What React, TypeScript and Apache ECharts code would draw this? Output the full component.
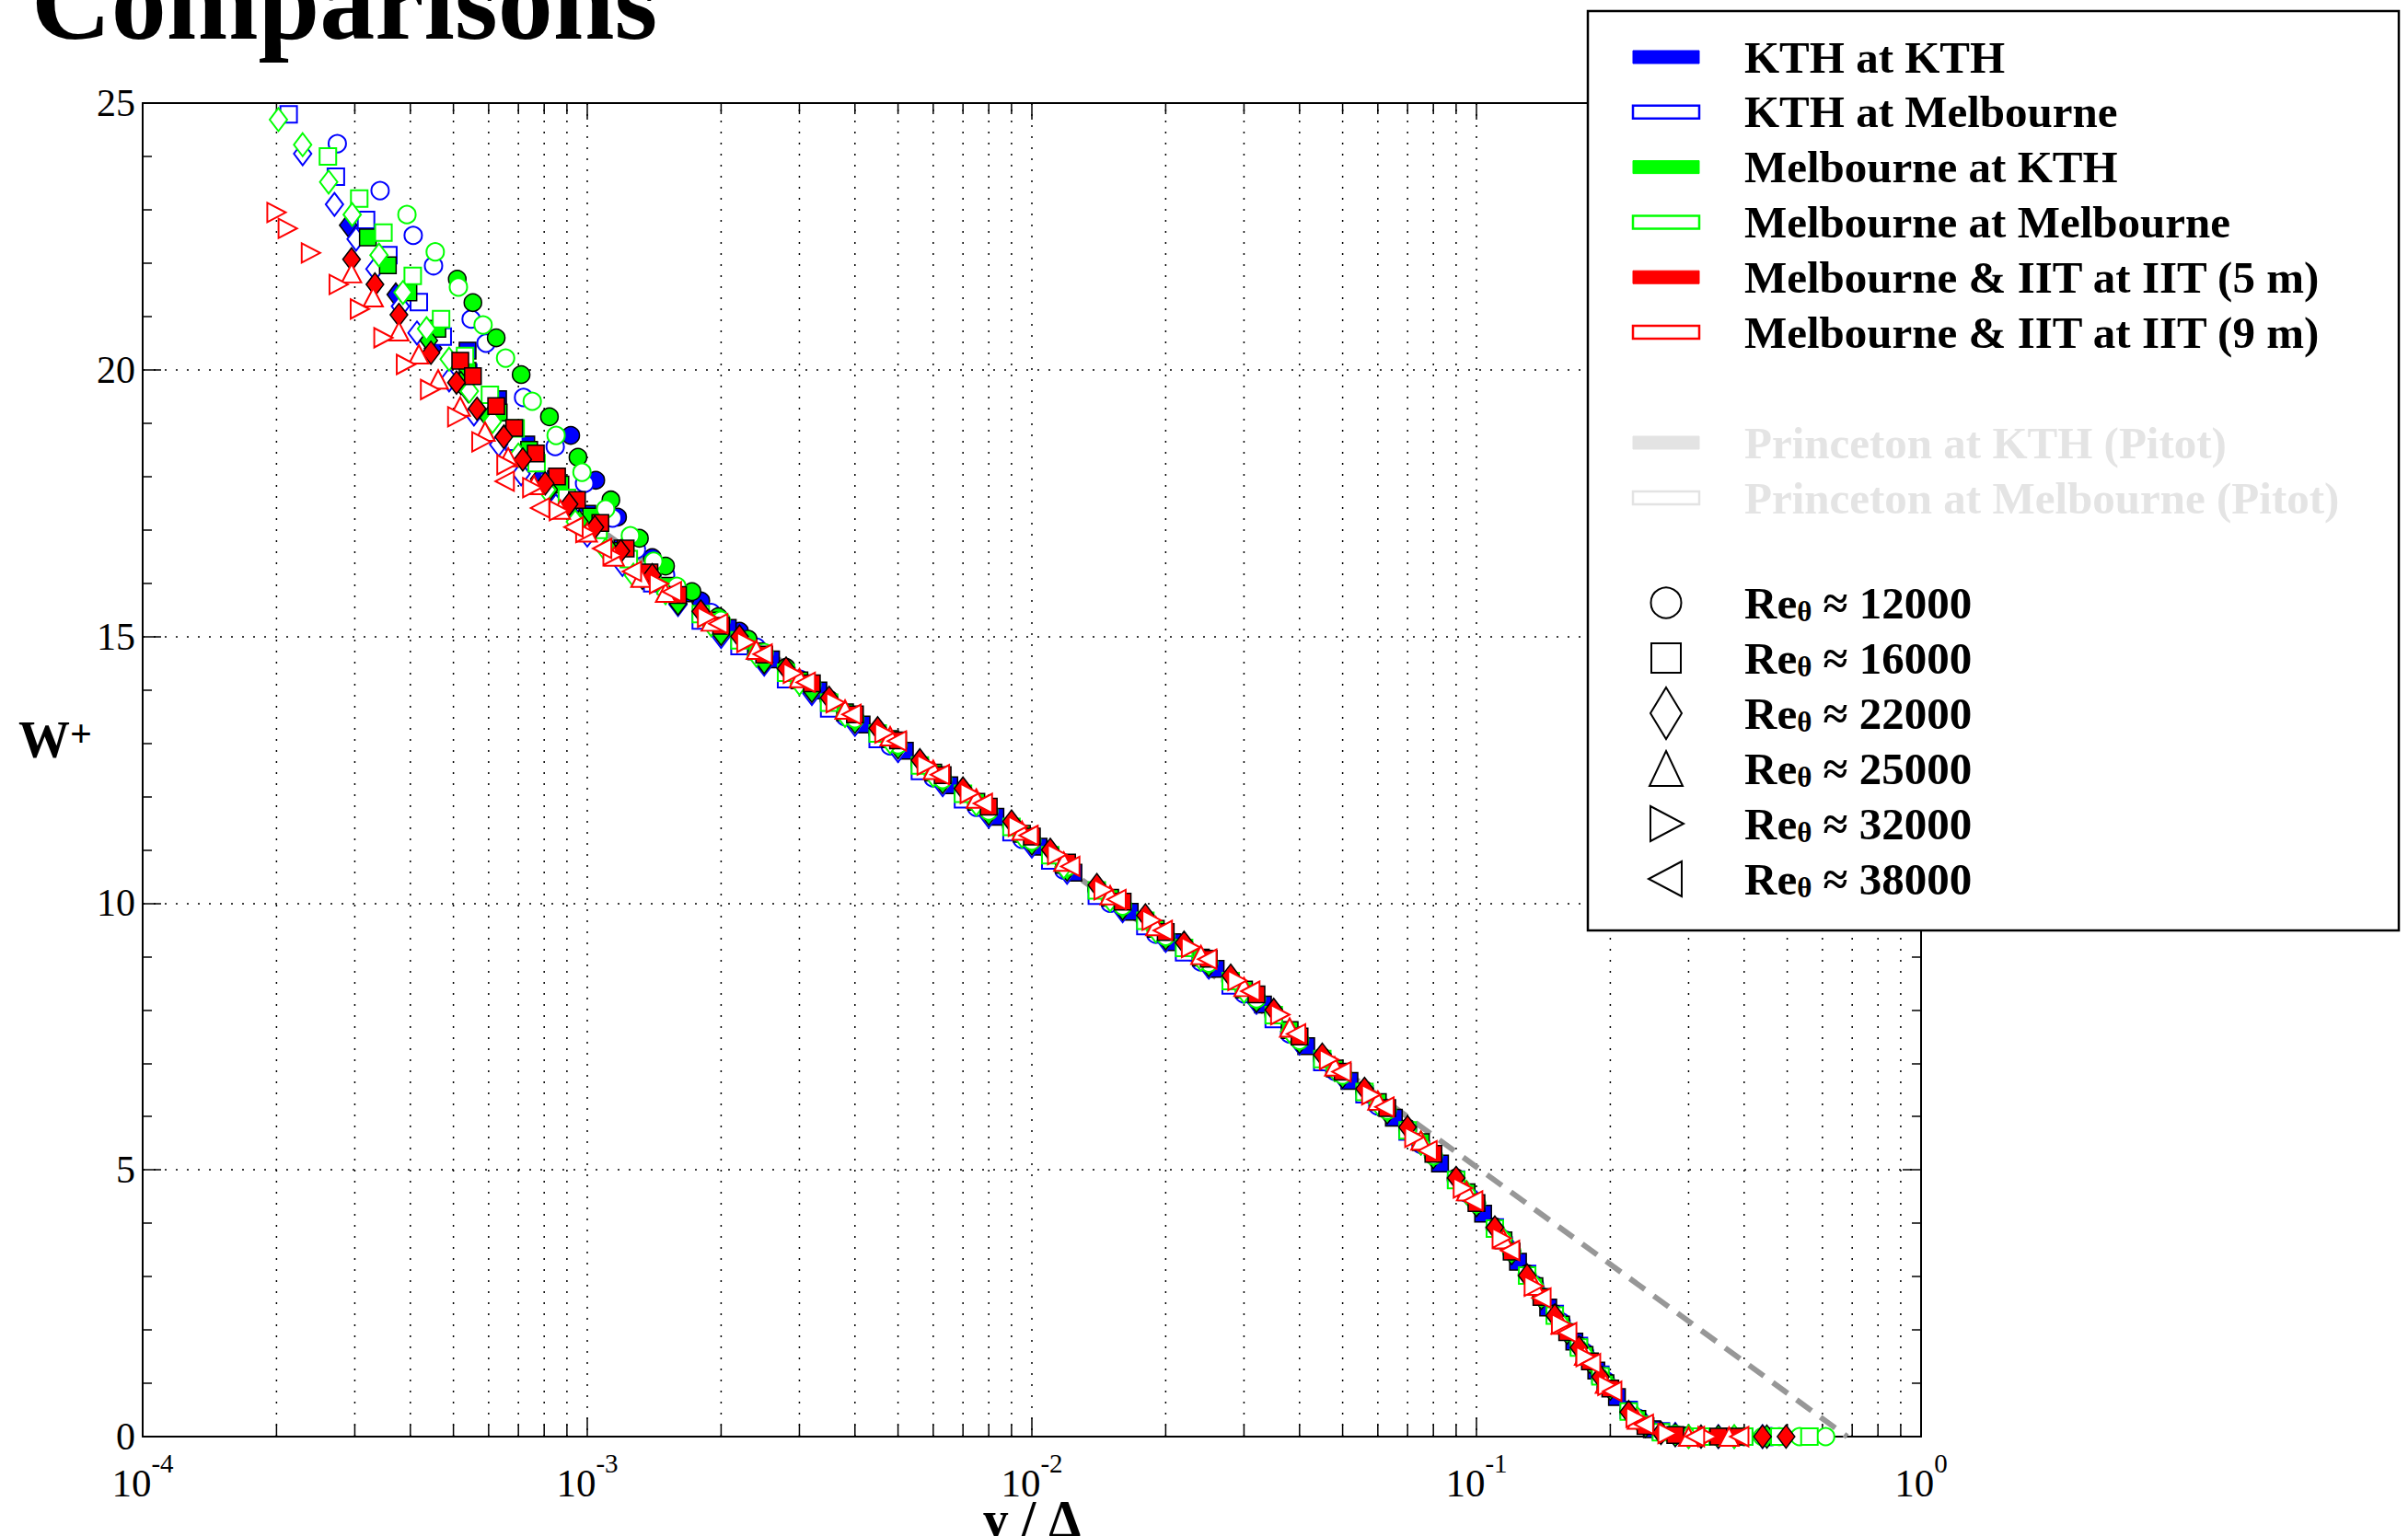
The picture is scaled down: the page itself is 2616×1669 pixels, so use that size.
import React, { useEffect, useRef } from 'react';
import * as echarts from 'echarts';

const SERIF = '"Liberation Serif", "Times New Roman", serif';

// ---------- tick labels ----------
const xTickExponents = ['-4', '-3', '-2', '-1', '0'];
const xMinorTicks = [
  2e-4, 3e-4, 4e-4, 5e-4, 6e-4, 7e-4, 8e-4, 9e-4,
  2e-3, 3e-3, 4e-3, 5e-3, 6e-3, 7e-3, 8e-3, 9e-3,
  0.02, 0.03, 0.04, 0.05, 0.06, 0.07, 0.08, 0.09,
  0.2, 0.3, 0.4, 0.5, 0.6, 0.7, 0.8, 0.9,
];

// ---------- legend texts ----------
const facilityLabels = [
  'KTH at KTH',
  'KTH at Melbourne',
  'Melbourne at KTH',
  'Melbourne at Melbourne',
  'Melbourne & IIT at IIT (5 m)',
  'Melbourne & IIT at IIT (9 m)',
];
const princetonLabels = ['Princeton at KTH (Pitot)', 'Princeton at Melbourne (Pitot)'];
const reLabels = ['12000', '16000', '22000', '25000', '32000', '38000'];

// ---------- dashed log-law line ----------
const logLaw = [[1.1e-3, 16.93], [0.682, 0]];

// ---------- data: [y/Δ, W+] ----------
const kthKth12k = [[9.18e-4,18.77],[1.045e-3,17.93],[1.17e-3,17.24],[1.4e-3,16.48],[1.8e-3,15.67],[2.2e-3,15.1],[2.8e-3,14.4],[3.5e-3,13.8],[4.5e-3,13.18],[5.6e-3,12.58],[7.0e-3,12.05],[9.0e-3,11.43],[0.011,10.9],[0.014,10.24],[0.018,9.67],[0.022,9.16],[0.028,8.54],[0.035,7.9],[0.045,7.08],[0.056,6.46],[0.07,5.74],[0.09,4.81],[0.11,3.9],[0.13,3.02],[0.15,2.27],[0.17,1.67],[0.19,1.13],[0.22,0.47],[0.26,0.08],[0.32,0],[0.4,0]];
const kthKth16k = [[5.38e-4,20.36],[6.3e-4,19.45],[7.29e-4,18.6],[8.5e-4,17.95],[1.0e-3,17.3],[1.2e-3,16.65],[1.66e-3,15.81],[2.07e-3,15.16],[2.59e-3,14.57],[3.31e-3,13.99],[4.14e-3,13.35],[5.18e-3,12.86],[6.52e-3,12.21],[8.28e-3,11.62],[0.01035,11.06],[0.0124,10.57],[0.0166,9.84],[0.0207,9.27],[0.0259,8.77],[0.0331,8.1],[0.0414,7.32],[0.0518,6.67],[0.0652,5.98],[0.0828,5.12],[0.1035,4.18],[0.124,3.28],[0.145,2.42],[0.166,1.78],[0.186,1.24],[0.207,0.74],[0.248,0.14],[0.29,0.02],[0.362,0],[0.466,0]];
const kthKth22k = [[2.9e-4,22.71],[3.71e-4,21.41],[4.5e-4,20.4],[5.4e-4,19.6],[6.5e-4,18.75],[7.8e-4,17.95],[9.4e-4,17.2],[1.13e-3,16.6],[1.5e-3,15.85],[1.9e-3,15.25],[2.4e-3,14.68],[3.0e-3,14.15],[3.8e-3,13.55],[4.8e-3,13.05],[6.0e-3,12.42],[7.5e-3,11.88],[9.5e-3,11.28],[0.0118,10.7],[0.015,10.08],[0.019,9.5],[0.024,8.96],[0.03,8.36],[0.038,7.6],[0.048,6.88],[0.06,6.25],[0.075,5.5],[0.095,4.57],[0.115,3.68],[0.135,2.82],[0.155,2.1],[0.175,1.53],[0.195,1.0],[0.23,0.33],[0.3,0],[0.38,0]];

const kthMel12k = [[2.74e-4,24.24],[3.42e-4,23.36],[4.06e-4,22.52],[4.51e-4,21.95],[5.48e-4,20.95],[5.92e-4,20.5],[7.19e-4,19.48],[8.47e-4,18.56],[9.86e-4,17.87],[1.14e-3,17.22],[1.29e-3,16.63],[1.5e-3,16.15],[1.9e-3,15.45],[2.4e-3,14.8],[3.0e-3,14.2],[3.8e-3,13.5],[4.8e-3,12.95],[6.0e-3,12.35],[7.5e-3,11.8],[9.5e-3,11.2],[0.0118,10.62],[0.015,10.0],[0.019,9.42],[0.024,8.9],[0.03,8.3],[0.038,7.55],[0.048,6.85],[0.06,6.2],[0.075,5.48],[0.095,4.57],[0.115,3.7],[0.135,2.85],[0.155,2.15],[0.175,1.58],[0.195,1.05],[0.23,0.35],[0.3,0],[0.38,0],[0.46,0]];
const kthMel16k = [[2.13e-4,24.79],[2.72e-4,23.62],[3.18e-4,22.81],[3.57e-4,22.15],[4.18e-4,21.27],[4.73e-4,20.62],[5.4e-4,19.95],[6.85e-4,18.65],[8.2e-4,17.9],[9.8e-4,17.2],[1.17e-3,16.55],[1.4e-3,16.0],[1.8e-3,15.3],[2.2e-3,14.82],[2.8e-3,14.2],[3.5e-3,13.65],[4.5e-3,13.08],[5.6e-3,12.48],[7.0e-3,11.95],[9.0e-3,11.33],[0.011,10.8],[0.014,10.14],[0.018,9.57],[0.022,9.08],[0.028,8.46],[0.035,7.83],[0.045,7.02],[0.056,6.42],[0.07,5.72],[0.09,4.82],[0.11,3.92],[0.13,3.05],[0.15,2.3],[0.17,1.7],[0.19,1.16],[0.22,0.5],[0.26,0.1],[0.32,0],[0.4,0]];
const kthMel22k = [[2.29e-4,24.05],[2.7e-4,23.1],[3.02e-4,22.45],[3.33e-4,21.89],[3.8e-4,21.19],[4.14e-4,20.69],[4.89e-4,19.81],[5.56e-4,19.17],[6.32e-4,18.6],[7.1e-4,18.05],[8.5e-4,17.45],[1.0e-3,16.9],[1.2e-3,16.35],[1.6e-3,15.6],[2.0e-3,15.0],[2.5e-3,14.48],[3.2e-3,13.93],[4.0e-3,13.35],[5.0e-3,12.86],[6.3e-3,12.22],[8.0e-3,11.63],[0.01,11.07],[0.012,10.58],[0.016,9.86],[0.02,9.3],[0.025,8.8],[0.032,8.14],[0.04,7.38],[0.05,6.74],[0.063,6.1],[0.08,5.27],[0.1,4.38],[0.12,3.48],[0.14,2.64],[0.16,1.98],[0.18,1.44],[0.2,0.93],[0.24,0.22],[0.28,0.04],[0.35,0],[0.44,0]];

const melKth12k = [[5.1e-4,21.7],[5.53e-4,21.26],[6.24e-4,20.6],[7.1e-4,19.91],[8.22e-4,19.12],[9.53e-4,18.36],[1.13e-3,17.56],[1.31e-3,16.84],[1.5e-3,16.32],[1.72e-3,15.84],[1.97e-3,15.37],[2.3e-3,14.95],[2.8e-3,14.42],[3.5e-3,13.82],[4.5e-3,13.22],[5.6e-3,12.62],[7.0e-3,12.08],[9.0e-3,11.46],[0.011,10.93],[0.014,10.27],[0.018,9.7],[0.022,9.2],[0.028,8.58],[0.035,7.95],[0.045,7.12],[0.056,6.5],[0.07,5.78],[0.09,4.85],[0.11,3.93],[0.13,3.05],[0.15,2.3],[0.17,1.7],[0.19,1.15],[0.22,0.48],[0.26,0.08],[0.32,0],[0.4,0],[0.48,0]];
const melKth16k = [[3.21e-4,22.48],[3.56e-4,21.96],[3.96e-4,21.45],[4.6e-4,20.77],[5.38e-4,19.98],[6.32e-4,19.2],[7.4e-4,18.5],[8.7e-4,17.85],[1.02e-3,17.25],[1.2e-3,16.6],[1.5e-3,15.95],[1.9e-3,15.3],[2.4e-3,14.72],[3.0e-3,14.18],[3.8e-3,13.58],[4.8e-3,13.08],[6.0e-3,12.45],[7.5e-3,11.9],[9.5e-3,11.3],[0.0118,10.72],[0.015,10.1],[0.019,9.52],[0.024,8.98],[0.03,8.38],[0.038,7.62],[0.048,6.9],[0.06,6.27],[0.075,5.52],[0.095,4.58],[0.115,3.68],[0.135,2.82],[0.155,2.1],[0.175,1.53],[0.195,1.0],[0.23,0.33],[0.3,0],[0.38,0],[0.47,0]];
const melKth22k = [[4.4e-4,20.55],[5.2e-4,19.75],[6.0e-4,19.1],[7.0e-4,18.4],[8.2e-4,17.75],[9.6e-4,17.15],[1.13e-3,16.6],[1.33e-3,16.1],[1.6e-3,15.62],[2.0e-3,15.05],[2.5e-3,14.52],[3.2e-3,13.98],[4.0e-3,13.4],[5.0e-3,12.92],[6.3e-3,12.27],[8.0e-3,11.68],[0.01,11.12],[0.012,10.63],[0.016,9.9],[0.02,9.34],[0.025,8.84],[0.032,8.17],[0.04,7.4],[0.05,6.75],[0.063,6.08],[0.08,5.24],[0.1,4.34],[0.12,3.44],[0.14,2.6],[0.16,1.95],[0.18,1.4],[0.2,0.9],[0.24,0.2],[0.28,0.03],[0.35,0],[0.45,0]];

const melMel12k = [[3.93e-4,22.91],[4.55e-4,22.21],[5.13e-4,21.55],[5.83e-4,20.84],[6.55e-4,20.22],[7.52e-4,19.41],[8.51e-4,18.77],[9.73e-4,18.08],[1.1e-3,17.39],[1.25e-3,16.89],[1.41e-3,16.41],[1.59e-3,15.94],[2.0e-3,15.3],[2.5e-3,14.7],[3.2e-3,14.1],[4.0e-3,13.46],[5.0e-3,12.97],[6.3e-3,12.32],[8.0e-3,11.73],[0.01,11.17],[0.012,10.68],[0.016,9.95],[0.02,9.38],[0.025,8.88],[0.032,8.21],[0.04,7.43],[0.05,6.78],[0.063,6.12],[0.08,5.27],[0.1,4.37],[0.12,3.47],[0.14,2.62],[0.16,1.97],[0.18,1.42],[0.2,0.92],[0.24,0.22],[0.28,0.04],[0.35,0],[0.44,0],[0.533,0],[0.61,0]];
const melMel16k = [[2.61e-4,24.0],[3.07e-4,23.21],[3.48e-4,22.57],[4.05e-4,21.76],[4.69e-4,20.95],[5.31e-4,20.26],[6.04e-4,19.53],[6.9e-4,18.9],[7.69e-4,18.25],[9.0e-4,17.6],[1.06e-3,17.0],[1.24e-3,16.45],[1.4e-3,16.1],[1.8e-3,15.42],[2.2e-3,14.93],[2.8e-3,14.32],[3.5e-3,13.76],[4.5e-3,13.18],[5.6e-3,12.58],[7.0e-3,12.05],[9.0e-3,11.43],[0.011,10.9],[0.014,10.24],[0.018,9.67],[0.022,9.16],[0.028,8.54],[0.035,7.9],[0.045,7.08],[0.056,6.46],[0.07,5.74],[0.09,4.81],[0.11,3.9],[0.13,3.02],[0.15,2.27],[0.17,1.67],[0.19,1.13],[0.22,0.47],[0.26,0.08],[0.32,0],[0.4,0],[0.48,0],[0.561,0]];
const melMel22k = [[2.02e-4,24.69],[2.29e-4,24.22],[2.62e-4,23.52],[2.96e-4,22.91],[3.4e-4,22.15],[3.85e-4,21.45],[4.35e-4,20.77],[4.89e-4,20.2],[5.43e-4,19.6],[6.12e-4,19.03],[7.0e-4,18.4],[8.1e-4,17.75],[9.4e-4,17.15],[1.1e-3,16.62],[1.27e-3,16.15],[1.5e-3,15.82],[1.9e-3,15.22],[2.4e-3,14.65],[3.0e-3,14.12],[3.8e-3,13.52],[4.8e-3,13.02],[6.0e-3,12.4],[7.5e-3,11.86],[9.5e-3,11.26],[0.0118,10.68],[0.015,10.06],[0.019,9.48],[0.024,8.95],[0.03,8.35],[0.038,7.6],[0.048,6.88],[0.06,6.25],[0.075,5.5],[0.095,4.58],[0.115,3.7],[0.135,2.84],[0.155,2.12],[0.175,1.55],[0.195,1.02],[0.23,0.34],[0.3,0],[0.38,0]];

const iit5m16k = [[5.18e-4,20.17],[5.53e-4,19.88],[6.24e-4,19.32],[6.85e-4,18.91],[7.66e-4,18.43],[8.55e-4,18.0],[9.48e-4,17.56],[1.07e-3,17.13],[1.22e-3,16.65],[1.38e-3,16.2],[1.6e-3,15.78],[2.0e-3,15.2],[2.5e-3,14.66],[3.2e-3,14.12],[4.0e-3,13.54],[5.0e-3,13.05],[6.3e-3,12.4],[8.0e-3,11.81],[0.01,11.25],[0.012,10.76],[0.016,10.03],[0.02,9.46],[0.025,8.96],[0.032,8.29],[0.04,7.5],[0.05,6.84],[0.063,6.16],[0.08,5.3],[0.1,4.38],[0.12,3.47],[0.14,2.62],[0.16,1.96],[0.18,1.41],[0.2,0.9],[0.24,0.2],[0.28,0.03],[0.35,0],[0.39,0]];
const iit5m22k = [[2.95e-4,22.07],[3.33e-4,21.6],[3.77e-4,21.03],[4.45e-4,20.32],[5.08e-4,19.76],[5.65e-4,19.27],[6.49e-4,18.74],[7.16e-4,18.32],[8.04e-4,17.87],[9.1e-4,17.48],[1.04e-3,17.05],[1.19e-3,16.6],[1.4e-3,16.15],[1.8e-3,15.47],[2.2e-3,15.0],[2.8e-3,14.4],[3.5e-3,13.85],[4.5e-3,13.28],[5.6e-3,12.68],[7.0e-3,12.15],[9.0e-3,11.53],[0.011,11.0],[0.014,10.34],[0.018,9.77],[0.022,9.26],[0.028,8.64],[0.035,8.0],[0.045,7.16],[0.056,6.52],[0.07,5.8],[0.09,4.85],[0.11,3.92],[0.13,3.02],[0.15,2.27],[0.17,1.67],[0.19,1.12],[0.22,0.46],[0.26,0.07],[0.32,0],[0.44,0],[0.497,0]];

const iit9m25k = [[2.95e-4,21.81],[3.3e-4,21.36],[3.77e-4,20.72],[4.18e-4,20.29],[4.62e-4,19.82],[5.18e-4,19.31],[5.89e-4,18.84],[6.64e-4,18.36],[7.59e-4,17.84],[8.7e-4,17.38],[1.0e-3,16.95],[1.15e-3,16.5],[1.32e-3,16.1],[1.5e-3,15.82],[1.9e-3,15.28],[2.4e-3,14.75],[3.0e-3,14.22],[3.8e-3,13.63],[4.8e-3,13.13],[6.0e-3,12.5],[7.5e-3,11.96],[9.5e-3,11.36],[0.0118,10.78],[0.015,10.15],[0.019,9.57],[0.024,9.03],[0.03,8.43],[0.038,7.67],[0.048,6.94],[0.06,6.3],[0.075,5.55],[0.095,4.6],[0.115,3.7],[0.135,2.83],[0.155,2.1],[0.175,1.52],[0.195,0.99],[0.23,0.32],[0.3,0],[0.37,0]];
const iit9m32k = [[2.0e-4,22.95],[2.12e-4,22.65],[2.39e-4,22.19],[2.76e-4,21.6],[3.08e-4,21.14],[3.48e-4,20.6],[3.91e-4,20.1],[4.43e-4,19.63],[5.1e-4,19.12],[5.78e-4,18.65],[6.58e-4,18.22],[7.52e-4,17.79],[8.63e-4,17.36],[9.9e-4,16.95],[1.14e-3,16.52],[1.45e-3,15.99],[1.86e-3,15.36],[2.28e-3,14.89],[2.9e-3,14.31],[3.62e-3,13.76],[4.66e-3,13.19],[5.8e-3,12.59],[7.25e-3,12.06],[9.3e-3,11.44],[0.0114,10.91],[0.0145,10.25],[0.0186,9.68],[0.0228,9.17],[0.029,8.55],[0.0362,7.91],[0.0466,7.07],[0.058,6.41],[0.0725,5.61],[0.0932,4.66],[0.114,3.72],[0.1346,2.82],[0.155,2.11],[0.176,1.5],[0.197,0.96],[0.228,0.36],[0.269,0.06],[0.331,0]];
const iit9m38k = [[6.52e-4,17.91],[7.83e-4,17.41],[9.31e-4,17.05],[1.08e-3,16.65],[1.26e-3,16.22],[1.55e-3,15.84],[1.97e-3,15.24],[2.48e-3,14.67],[3.1e-3,14.14],[3.93e-3,13.54],[4.97e-3,13.04],[6.21e-3,12.41],[7.76e-3,11.87],[9.83e-3,11.27],[0.0122,10.69],[0.0155,10.07],[0.0197,9.49],[0.0248,8.95],[0.031,8.35],[0.0393,7.55],[0.0497,6.84],[0.0621,6.18],[0.0776,5.36],[0.0983,4.42],[0.119,3.49],[0.14,2.6],[0.16,1.95],[0.181,1.37],[0.202,0.85],[0.238,0.23],[0.31,0],[0.39,0]];

// ---------- series table ----------
const BLUE = '#0000ff';
const GREEN = '#00ff00';
const RED = '#ff0000';

const seriesTable = [
  { name: 'KTH at KTH, Reθ≈12000', data: kthKth12k, shape: 'circle', color: BLUE, filled: true },
  { name: 'KTH at KTH, Reθ≈16000', data: kthKth16k, shape: 'square', color: BLUE, filled: true },
  { name: 'KTH at KTH, Reθ≈22000', data: kthKth22k, shape: 'diamond', color: BLUE, filled: true },
  { name: 'KTH at Melbourne, Reθ≈12000', data: kthMel12k, shape: 'circle', color: BLUE, filled: false },
  { name: 'KTH at Melbourne, Reθ≈16000', data: kthMel16k, shape: 'square', color: BLUE, filled: false },
  { name: 'KTH at Melbourne, Reθ≈22000', data: kthMel22k, shape: 'diamond', color: BLUE, filled: false },
  { name: 'Melbourne at KTH, Reθ≈12000', data: melKth12k, shape: 'circle', color: GREEN, filled: true },
  { name: 'Melbourne at KTH, Reθ≈16000', data: melKth16k, shape: 'square', color: GREEN, filled: true },
  { name: 'Melbourne at KTH, Reθ≈22000', data: melKth22k, shape: 'diamond', color: GREEN, filled: true },
  { name: 'Melbourne at Melbourne, Reθ≈12000', data: melMel12k, shape: 'circle', color: GREEN, filled: false },
  { name: 'Melbourne at Melbourne, Reθ≈16000', data: melMel16k, shape: 'square', color: GREEN, filled: false },
  { name: 'Melbourne at Melbourne, Reθ≈22000', data: melMel22k, shape: 'diamond', color: GREEN, filled: false },
  { name: 'IIT 5 m, Reθ≈16000', data: iit5m16k, shape: 'square', color: RED, filled: true },
  { name: 'IIT 5 m, Reθ≈22000', data: iit5m22k, shape: 'diamond', color: RED, filled: true },
  { name: 'IIT 9 m, Reθ≈25000', data: iit9m25k, shape: 'up', color: RED, filled: false },
  { name: 'IIT 9 m, Reθ≈32000', data: iit9m32k, shape: 'right', color: RED, filled: false },
  { name: 'IIT 9 m, Reθ≈38000', data: iit9m38k, shape: 'left', color: RED, filled: false },
];

const SYMBOLS: Record<string, { symbol: string; size: number | number[] }> = {
  circle: { symbol: 'circle', size: 19 },
  square: { symbol: 'rect', size: 18 },
  diamond: { symbol: 'diamond', size: [19, 25] },
  up: { symbol: 'triangle', size: [21, 20] },
  right: { symbol: 'path://M0,0L10,5L0,10Z', size: [20, 21] },
  left: { symbol: 'path://M10,0L0,5L10,10Z', size: [20, 21] },
};

function buildLegend(): any[] {
  const els: any[] = [];
  const Z = 100;
  els.push({
    type: 'rect', z: Z, silent: true,
    shape: { x: 1725, y: 12, width: 881, height: 999 },
    style: { fill: '#fff', stroke: '#000', lineWidth: 2.5 },
  });
  const colors = [BLUE, BLUE, GREEN, GREEN, RED, RED];
  const fills = [true, false, true, false, true, false];
  const textFont = `bold 49px ${SERIF}`;
  facilityLabels.forEach((label, i) => {
    const cy = 62 + i * 59.8;
    els.push({
      type: 'rect', z: Z + 1, silent: true,
      shape: { x: 1774, y: cy - 7, width: 72, height: 14 },
      style: fills[i]
        ? { fill: colors[i], stroke: colors[i], lineWidth: 1 }
        : { fill: '#fff', stroke: colors[i], lineWidth: 2.5 },
    });
    els.push({
      type: 'text', z: Z + 1, silent: true,
      style: { text: label, x: 1895, y: cy, verticalAlign: 'middle', font: textFont, fill: '#000' },
    });
  });
  princetonLabels.forEach((label, i) => {
    const cy = 481 + i * 60;
    els.push({
      type: 'rect', z: Z + 1, silent: true,
      shape: { x: 1774, y: cy - 7, width: 72, height: 14 },
      style: i === 0
        ? { fill: '#e3e3e3', stroke: '#e3e3e3', lineWidth: 1 }
        : { fill: '#fff', stroke: '#e3e3e3', lineWidth: 2.5 },
    });
    els.push({
      type: 'text', z: Z + 1, silent: true,
      style: { text: label, x: 1895, y: cy, verticalAlign: 'middle', font: textFont, fill: '#e4e4e4' },
    });
  });
  const mx = 1810;
  const shapeStyle = { fill: 'none', stroke: '#000', lineWidth: 2 };
  reLabels.forEach((re, i) => {
    const cy = 655 + i * 60;
    let shapeEl: any;
    if (i === 0) {
      shapeEl = { type: 'circle', shape: { cx: mx, cy, r: 16.5 } };
    } else if (i === 1) {
      shapeEl = { type: 'rect', shape: { x: mx - 16, y: cy - 16, width: 32, height: 32 } };
    } else if (i === 2) {
      shapeEl = { type: 'polygon', shape: { points: [[mx, cy - 28], [mx + 17, cy], [mx, cy + 28], [mx - 17, cy]] } };
    } else if (i === 3) {
      shapeEl = { type: 'polygon', shape: { points: [[mx, cy - 19], [mx + 18, cy + 19], [mx - 18, cy + 19]] } };
    } else if (i === 4) {
      shapeEl = { type: 'polygon', shape: { points: [[mx - 17, cy - 19], [mx + 19, cy], [mx - 17, cy + 19]] } };
    } else {
      shapeEl = { type: 'polygon', shape: { points: [[mx + 17, cy - 19], [mx - 19, cy], [mx + 17, cy + 19]] } };
    }
    els.push({ ...shapeEl, z: Z + 1, silent: true, style: shapeStyle });
    els.push({
      type: 'text', z: Z + 1, silent: true,
      style: {
        text: `{a|Re}{t|θ}{a| ≈ ${re}}`,
        x: 1895, y: cy, verticalAlign: 'middle',
        rich: {
          a: { font: textFont, fill: '#000', lineHeight: 49, verticalAlign: 'bottom' },
          t: { font: `bold 31px ${SERIF}`, fill: '#000', lineHeight: 36, verticalAlign: 'bottom' },
        },
      },
    });
  });
  return els;
}

export default function App() {
  const ref = useRef<HTMLDivElement>(null);
  useEffect(() => {
    document.body.style.margin = '0';
    document.body.style.overflow = 'hidden';
    const chart = echarts.init(ref.current!, null, { renderer: 'svg' });

    const axisLineStyle = { color: '#000', width: 2 };
    const dotted = { color: '#000', width: 1.5, type: [2, 10] as any };

    const series: any[] = [
      {
        name: 'minor x grid',
        type: 'custom',
        z: 1,
        silent: true,
        xAxisIndex: 0,
        yAxisIndex: 0,
        data: xMinorTicks.map((v) => [v, 0]),
        encode: { x: 0, y: 1 },
        renderItem: (params: any, api: any) => {
          const v = api.value(0);
          const b = api.coord([v, 0]);
          const t = api.coord([v, 25]);
          return {
            type: 'group',
            children: [
              { type: 'line', shape: { x1: b[0], y1: b[1], x2: t[0], y2: t[1] }, style: { stroke: '#000', lineWidth: 1.5, lineDash: [2, 10] } },
              { type: 'line', shape: { x1: b[0], y1: b[1], x2: b[0], y2: b[1] - 13 }, style: { stroke: '#000', lineWidth: 1.5 } },
              { type: 'line', shape: { x1: t[0], y1: t[1], x2: t[0], y2: t[1] + 12 }, style: { stroke: '#000', lineWidth: 1.5 } },
            ],
          };
        },
      },
      {
        name: 'log law',
        type: 'line',
        data: logLaw,
        symbol: 'none',
        silent: true,
        z: 2,
        lineStyle: { color: '#979797', width: 6, type: [20, 12] },
      },
    ];

    seriesTable.forEach((s) => {
      const sym = SYMBOLS[s.shape];
      series.push({
        name: s.name,
        type: 'scatter',
        data: s.data,
        symbol: sym.symbol,
        symbolSize: sym.size,
        clip: false,
        silent: true,
        z: 3,
        itemStyle: s.filled
          ? { color: s.color, borderColor: '#000', borderWidth: 1.5, opacity: 1 }
          : { color: '#fff', borderColor: s.color, borderWidth: 2, opacity: 1 },
      });
    });

    const option: any = {
      animation: false,
      backgroundColor: '#fff',
      grid: { left: 155, top: 112, width: 1932, height: 1449, show: false },
      xAxis: [
        {
          type: 'log', logBase: 10, min: 1e-4, max: 1, position: 'bottom',
          axisLine: { show: true, onZero: false, lineStyle: axisLineStyle },
          axisTick: { show: true, inside: true, length: 20, lineStyle: { color: '#000', width: 1.5 } },
          axisLabel: {
            margin: 14,
            formatter: (v: number) => {
              const e = Math.round(Math.log10(v));
              return `{b|10}{e|${xTickExponents[e + 4]}}`;
            },
            rich: {
              b: { fontSize: 43, fontFamily: SERIF, color: '#000', lineHeight: 58, verticalAlign: 'bottom' },
              e: { fontSize: 29, fontFamily: SERIF, color: '#000', lineHeight: 26, verticalAlign: 'top' },
            },
          },
          splitLine: { show: true, lineStyle: dotted },
        },
        {
          type: 'log', logBase: 10, min: 1e-4, max: 1, position: 'top',
          axisLine: { show: true, onZero: false, lineStyle: axisLineStyle },
          axisTick: { show: true, inside: true, length: 18, lineStyle: { color: '#000', width: 1.5 } },
          axisLabel: { show: false },
          splitLine: { show: false },
        },
      ],
      yAxis: [
        {
          type: 'value', min: 0, max: 25, interval: 5, position: 'left',
          axisLine: { show: true, onZero: false, lineStyle: axisLineStyle },
          axisTick: { show: true, inside: true, length: 20, lineStyle: { color: '#000', width: 1.5 } },
          minorTick: { show: true, splitNumber: 5, length: 10, lineStyle: { color: '#000', width: 1.5 } },
          axisLabel: { fontSize: 42, fontFamily: SERIF, color: '#000', margin: 8 },
          splitLine: { show: true, lineStyle: dotted },
        },
        {
          type: 'value', min: 0, max: 25, interval: 5, position: 'right',
          axisLine: { show: true, onZero: false, lineStyle: axisLineStyle },
          axisTick: { show: true, inside: true, length: 20, lineStyle: { color: '#000', width: 1.5 } },
          minorTick: { show: true, splitNumber: 5, length: 10, lineStyle: { color: '#000', width: 1.5 } },
          axisLabel: { show: false },
          splitLine: { show: false },
        },
      ],
      series,
      graphic: [
        {
          type: 'text', z: 100, silent: true,
          style: { text: 'Comparisons', x: 34, y: 1, verticalAlign: 'middle', font: `bold 120px ${SERIF}`, fill: '#000' },
        },
        {
          type: 'text', z: 100, silent: true,
          style: {
            text: '{w|W}{p|+}', x: 20, y: 804, verticalAlign: 'middle',
            rich: {
              w: { font: `bold 56px ${SERIF}`, fill: '#000', lineHeight: 56, verticalAlign: 'bottom' },
              p: { font: `bold 42px ${SERIF}`, fill: '#000', lineHeight: 16, verticalAlign: 'top' },
            },
          },
        },
        {
          type: 'text', z: 100, silent: true,
          style: { text: 'y / Δ', x: 1121, y: 1651, align: 'center', verticalAlign: 'middle', font: `bold 56px ${SERIF}`, fill: '#000' },
        },
        ...buildLegend(),
      ],
    };

    chart.setOption(option);
    return () => chart.dispose();
  }, []);

  return (
    <div
      ref={ref}
      style={{ position: 'absolute', left: 0, top: 0, width: 2616, height: 1669, background: '#fff' }}
    />
  );
}
